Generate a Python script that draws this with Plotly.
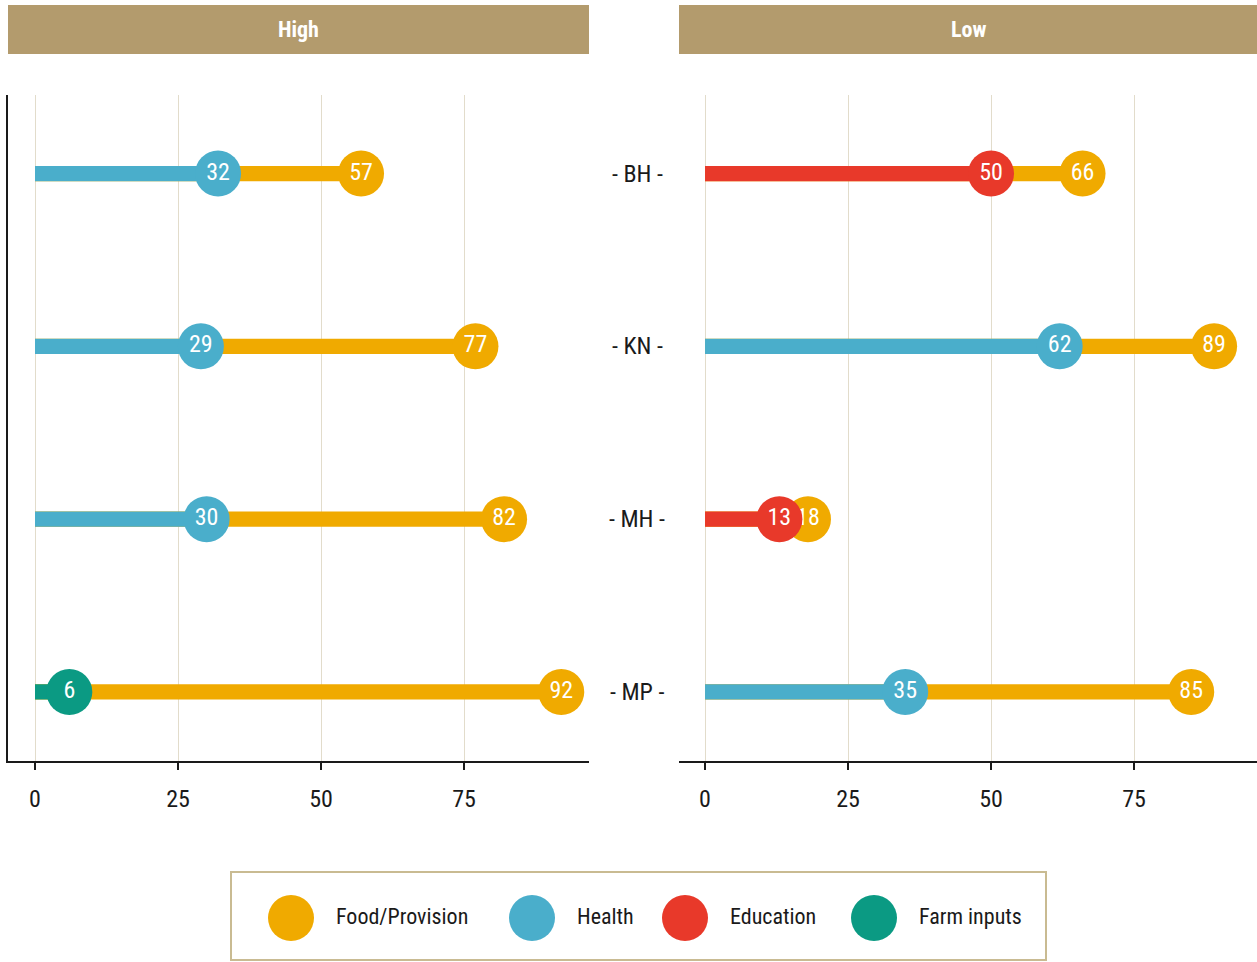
import plotly.graph_objects as go

regions = ["BH", "KN", "MH", "MP"]
panels = ["High", "Low"]

# food/provision value per region, per panel
food_high = [57, 77, 82, 92]
food_low = [66, 89, 18, 85]
# the second category shown on each row
second_high = [32, 29, 30, 6]
second_high_cat = ["Health", "Health", "Health", "Farm inputs"]
second_low = [50, 62, 13, 35]
second_low_cat = ["Education", "Health", "Education", "Health"]

legend_items = ["Food/Provision", "Health", "Education", "Farm inputs"]
colors = {"Food/Provision": "#f0aa00", "Health": "#4aaecb",
          "Education": "#e8392a", "Farm inputs": "#0b9a83"}

W, H = 1257, 962
FONT = "Roboto Condensed, Roboto, sans-serif"
STRIP = "#b39b6d"
GRID = "#e2dccb"
INK = "#1a1a1a"


def px_x(a, b):
    return [a / W, b / W]


def px_y(top, bottom):
    return [1 - bottom / H, 1 - top / H]


fig = go.Figure()

panel_data = [(food_high, second_high, second_high_cat, "x", "y"),
              (food_low, second_low, second_low_cat, "x2", "y2")]

for food, sec, sec_cat, xa, ya in panel_data:
    fig.add_trace(go.Bar(x=food, y=regions, orientation="h", width=0.088, base=0,
                         marker=dict(color=colors["Food/Provision"], line=dict(width=0)),
                         xaxis=xa, yaxis=ya, hoverinfo="skip"))
    fig.add_trace(go.Bar(x=sec, y=regions, orientation="h", width=0.088, base=0,
                         marker=dict(color=[colors[c] for c in sec_cat], line=dict(width=0)),
                         xaxis=xa, yaxis=ya, hoverinfo="skip"))
    fig.add_trace(go.Scatter(x=food, y=regions, mode="markers+text", text=[str(v) for v in food],
                             textposition="middle center",
                             textfont=dict(family=FONT, size=24, color="white"),
                             marker=dict(size=46, color=colors["Food/Provision"], line=dict(width=0)),
                             xaxis=xa, yaxis=ya))
    fig.add_trace(go.Scatter(x=sec, y=regions, mode="markers+text", text=[str(v) for v in sec],
                             textposition="middle center",
                             textfont=dict(family=FONT, size=24, color="white"),
                             marker=dict(size=46, color=[colors[c] for c in sec_cat], line=dict(width=0)),
                             xaxis=xa, yaxis=ya))

# legend built as its own small axis so the circles can be large
legend_x = [60, 301, 454, 643]
fig.add_trace(go.Scatter(x=legend_x, y=[0] * 4, mode="markers",
                         marker=dict(size=46, color=[colors[c] for c in legend_items]),
                         xaxis="x3", yaxis="y3", hoverinfo="skip"))
fig.add_trace(go.Scatter(x=[v + 45 for v in legend_x], y=[0] * 4, mode="text", text=legend_items,
                         textposition="middle right",
                         textfont=dict(family=FONT, size=22, color=INK),
                         xaxis="x3", yaxis="y3", hoverinfo="skip"))

xcommon = dict(tickvals=[0, 25, 50, 75], showgrid=True, gridcolor=GRID,
               gridwidth=1, zeroline=False, showline=True, linecolor=INK, linewidth=2,
               ticks="outside", ticklen=7, tickwidth=2, tickcolor=INK,
               tickfont=dict(family=FONT, size=24, color=INK), ticklabelstandoff=8)
ycommon = dict(type="category", categoryorder="array", categoryarray=regions[::-1],
               range=[-0.4, 3.455], showticklabels=False, showgrid=False, zeroline=False,
               ticks="")

fig.update_layout(
    width=W, height=H,
    margin=dict(l=0, r=0, t=0, b=0),
    plot_bgcolor="white", paper_bgcolor="white",
    showlegend=False, barmode="overlay",
    xaxis=dict(domain=px_x(8, 589), anchor="y", range=[-4.72, 96.85], **xcommon),
    yaxis=dict(domain=px_y(95, 761), anchor="x", showline=True, linecolor=INK,
               linewidth=2, **ycommon),
    xaxis2=dict(domain=px_x(679, 1257), anchor="y2", range=[-4.55, 96.5], **xcommon),
    yaxis2=dict(domain=px_y(95, 761), anchor="x2", showline=False, **ycommon),
    xaxis3=dict(domain=px_x(231, 1046), anchor="y3", range=[0, 815], visible=False),
    yaxis3=dict(domain=px_y(875, 961), anchor="x3", range=[-1, 1], visible=False),
)

# facet strips
for name, (a, b) in zip(panels, [(8, 589), (679, 1257)]):
    xd = px_x(a, b)
    yd = px_y(5, 54)
    fig.add_shape(type="rect", xref="paper", yref="paper", x0=xd[0], x1=xd[1], y0=yd[0], y1=yd[1],
                  fillcolor=STRIP, line=dict(width=0), layer="below")
    fig.add_annotation(text="<b>" + name + "</b>", xref="paper", yref="paper",
                       x=(xd[0] + xd[1]) / 2, y=(yd[0] + yd[1]) / 2, showarrow=False,
                       xanchor="center", yanchor="middle",
                       font=dict(family=FONT, size=22, color="white"))

# region labels between the panels
for r in regions:
    fig.add_annotation(text="- " + r + " -", xref="paper", yref="y", x=637 / W, y=r,
                       showarrow=False, xanchor="center", yanchor="middle",
                       font=dict(family=FONT, size=24, color=INK))

# legend box
lx = px_x(231, 1046)
ly = px_y(872, 960)
fig.add_shape(type="rect", xref="paper", yref="paper", x0=lx[0], x1=lx[1], y0=ly[0], y1=ly[1],
              line=dict(color="#c9bb92", width=2), fillcolor="rgba(0,0,0,0)")

fig.write_html("out.html", config={"displayModeBar": False},
               post_script="document.body.style.margin='0';")
